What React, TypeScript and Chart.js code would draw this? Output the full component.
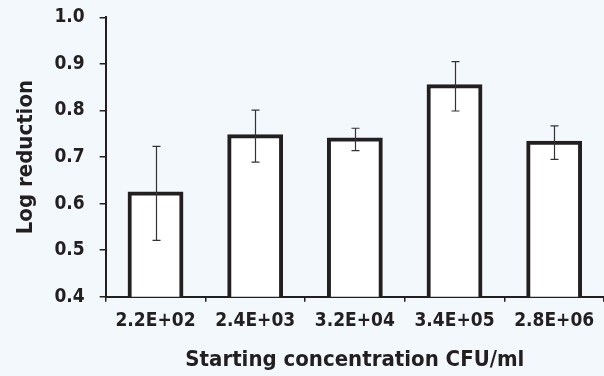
import React, { useEffect, useRef } from "react";
import { Chart, registerables } from "chart.js";

Chart.register(...registerables);

const categories = ["2.2E+02", "2.4E+03", "3.2E+04", "3.4E+05", "2.8E+06"];
const logReduction = [0.622, 0.745, 0.738, 0.852, 0.731];
const errorBars = [0.101, 0.056, 0.024, 0.053, 0.036];
const yTicks = [0.4, 0.5, 0.6, 0.7, 0.8, 0.9, 1.0];

const INK = "#231f20";
const FONT = "'DejaVu Sans Condensed', 'DejaVu Sans', sans-serif";
const SHIFT = 9;

const errorBarPlugin = {
  id: "errorBars",
  afterDatasetsDraw(chart: any) {
    const ctx = chart.ctx;
    const meta = chart.getDatasetMeta(0);
    const y = chart.scales.y;
    ctx.save();
    ctx.strokeStyle = "#333333";
    ctx.lineWidth = 1.2;
    meta.data.forEach((bar: any, i: number) => {
      const v = logReduction[i];
      const e = errorBars[i];
      const x = Math.round(bar.x) + 0.5;
      const yt = y.getPixelForValue(v + e);
      const yb = y.getPixelForValue(v - e);
      ctx.beginPath();
      ctx.moveTo(x, yt);
      ctx.lineTo(x, yb);
      ctx.moveTo(x - 4, yt);
      ctx.lineTo(x + 4, yt);
      ctx.moveTo(x - 4, yb);
      ctx.lineTo(x + 4, yb);
      ctx.stroke();
    });
    ctx.restore();
  },
};

export default function App() {
  const ref = useRef<HTMLCanvasElement | null>(null);
  useEffect(() => {
    if (!ref.current) return;
    const chart = new Chart(ref.current, {
      type: "bar",
      data: {
        labels: categories,
        datasets: [
          {
            data: logReduction,
            backgroundColor: "#ffffff",
            borderColor: INK,
            borderWidth: 4,
            borderSkipped: false,
            inflateAmount: 2,
            barPercentage: 0.52,
            categoryPercentage: 1,
          },
        ],
      },
      options: {
        animation: false,
        responsive: false,
        maintainAspectRatio: false,
        layout: { padding: { top: 0, right: 0, bottom: 3, left: 13 } },
        plugins: {
          legend: { display: false },
          tooltip: { enabled: false },
        },
        scales: {
          x: {
            grid: {
              display: true,
              drawOnChartArea: false,
              drawTicks: true,
              tickLength: 5,
              color: INK,
              lineWidth: 1.5,
            },
            border: { display: true, color: INK, width: 2 },
            ticks: {
              color: INK,
              font: { family: FONT, size: 19, weight: "bold" },
              padding: 8,
              maxRotation: 0,
            },
            title: {
              display: true,
              text: "Starting concentration CFU/ml",
              color: INK,
              font: { family: FONT, size: 22, weight: "bold" },
              padding: { top: 6, bottom: 0 },
            },
          },
          y: {
            min: 0.4,
            max: 1.0,
            afterBuildTicks: (axis: any) => {
              axis.ticks = yTicks.map((v) => ({ value: v }));
            },
            grid: {
              display: true,
              drawOnChartArea: false,
              drawTicks: true,
              tickLength: 6,
              color: INK,
              lineWidth: 1.5,
            },
            border: { display: true, color: INK, width: 2 },
            ticks: {
              color: INK,
              font: { family: FONT, size: 19, weight: "bold" },
              padding: 15,
              callback: (v: any) => Number(v).toFixed(1),
            },
            title: {
              display: true,
              text: "Log reduction",
              color: INK,
              font: { family: FONT, size: 22, weight: "bold" },
              padding: { top: 0, bottom: 0 },
            },
          },
        },
      },
      plugins: [errorBarPlugin],
    });
    return () => chart.destroy();
  }, []);
  return (
    <div
      style={{
        position: "fixed",
        left: 0,
        top: 0,
        width: 604,
        height: 376,
        overflow: "hidden",
        background: "#f3f8fc",
      }}
    >
      <canvas
        ref={ref}
        width={604}
        height={376 + SHIFT}
        style={{ position: "absolute", left: 0, top: -SHIFT }}
      />
    </div>
  );
}
